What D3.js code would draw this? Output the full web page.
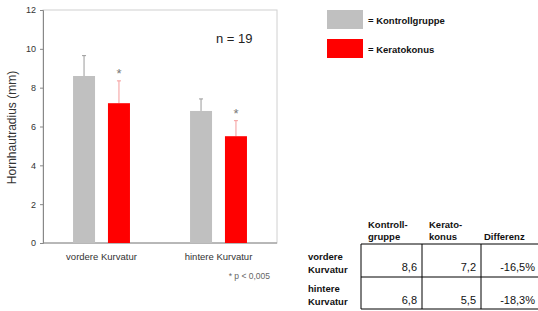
<!DOCTYPE html>
<html>
<head>
<meta charset="utf-8">
<script src="https://cdn.jsdelivr.net/npm/d3@7"></script>
<style>
  body { margin: 0; background: #fff; }
  svg { display: block; font-family: "Liberation Sans", Arial, sans-serif; }
</style>
</head>
<body>
<svg id="plot"></svg>
<script>
const width = 538;
const height = 311;

// data
const categories = ["vordere Kurvatur", "hintere Kurvatur"];
const series = ["Kontrollgruppe", "Keratokonus"];
const kontrolle = [8.6, 6.8];
const kontrolleSD = [1.05, 0.62];
const keratokonus = [7.2, 5.5];
const keratokonusSD = [1.15, 0.8];
const yTicks = [0, 2, 4, 6, 8, 10, 12];
const differenz = ["-16,5%", "-18,3%"];
const colors = ["#c0c0c0", "#ff0000"];
const errColors = ["#9a9a9a", "#f59a9a"];

let svg, x0, x1, y;

function main(){
  svg = d3.select('svg#plot')
  .attr('width', width)
  .attr('height', height);

  drawChart();
  drawLegend();
  drawTable();
}

function drawChart(){
  const left = 43, right = 277, top = 10, bottom = 243;

  x0 = d3.scaleBand().domain(categories).range([left, right]);
  x1 = d3.scaleBand().domain(series).range([0, x0.bandwidth()])
  .paddingInner(0.37).paddingOuter(0.86);
  y = d3.scaleLinear().domain([0, 12]).range([bottom, top]);

  // frame
  svg.append('rect')
  .attr('x', left).attr('y', top)
  .attr('width', right-left).attr('height', bottom-top)
  .attr('fill', 'none').attr('stroke', '#d0d0d0');

  const yAxis = svg.append('g')
  .attr('transform', `translate(${left},0)`)
  .call(d3.axisLeft(y).tickValues(yTicks).tickSize(3).tickPadding(4));
  yAxis.select('.domain').attr('stroke', '#888');
  yAxis.selectAll('.tick line').attr('stroke', '#888');
  yAxis.selectAll('.tick text').attr('font-size', 9).attr('fill', '#333');

  svg.append('line')
  .attr('x1', left).attr('x2', right).attr('y1', bottom).attr('y2', bottom)
  .attr('stroke', '#888');

  svg.append('text')
  .attr('transform', `translate(12,${(top+bottom)/2+1}) rotate(-90)`)
  .attr('text-anchor', 'middle').attr('dominant-baseline', 'central')
  .attr('font-size', 12).attr('fill', '#333')
  .text('Hornhautradius (mm)');

  const rows = categories.map((c,i)=>({
    cat: c,
    vals: [
      {s: series[0], v: kontrolle[i], sd: kontrolleSD[i], k: 0},
      {s: series[1], v: keratokonus[i], sd: keratokonusSD[i], k: 1}
    ]
  }));

  const g = svg.selectAll('.grp')
  .data(rows)
  .enter()
  .append('g')
  .attr('class', 'grp')
  .attr('transform', d=>`translate(${x0(d.cat)},0)`);

  // error bars
  const eb = g.selectAll('.err')
  .data(d=>d.vals)
  .enter()
  .append('g')
  .attr('class', 'err')
  .attr('stroke', d=>errColors[d.k]);
  eb.append('line')
  .attr('x1', d=>x1(d.s)+x1.bandwidth()/2)
  .attr('x2', d=>x1(d.s)+x1.bandwidth()/2)
  .attr('y1', d=>y(d.v))
  .attr('y2', d=>y(d.v+d.sd));
  eb.append('line')
  .attr('x1', d=>x1(d.s)+x1.bandwidth()/2-2)
  .attr('x2', d=>x1(d.s)+x1.bandwidth()/2+2)
  .attr('y1', d=>y(d.v+d.sd))
  .attr('y2', d=>y(d.v+d.sd));

  g.selectAll('.bar')
  .data(d=>d.vals)
  .enter()
  .append('rect')
  .attr('class', 'bar')
  .attr('x', d=>x1(d.s))
  .attr('y', d=>y(d.v))
  .attr('width', x1.bandwidth())
  .attr('height', d=>y(0)-y(d.v))
  .attr('fill', d=>colors[d.k]);

  // significance marks
  g.append('text')
  .attr('x', x1(series[1])+x1.bandwidth()/2)
  .attr('y', d=>y(d.vals[1].v+d.vals[1].sd)-3)
  .attr('text-anchor', 'middle')
  .attr('font-size', 13).attr('fill', '#777')
  .text('*');

  svg.selectAll('.catLabel')
  .data(categories)
  .enter()
  .append('text')
  .attr('class', 'catLabel')
  .attr('x', d=>x0(d)+x0.bandwidth()/2)
  .attr('y', 260)
  .attr('text-anchor', 'middle')
  .attr('font-size', 9.5).attr('fill', '#333')
  .text(d=>d);

  svg.append('text')
  .attr('x', 270).attr('y', 279)
  .attr('text-anchor', 'end')
  .attr('font-size', 8.5).attr('fill', '#666')
  .text('* p < 0,005');

  svg.append('text')
  .attr('x', 216).attr('y', 43)
  .attr('font-size', 13).attr('fill', '#222')
  .text('n = 19');
}

function drawLegend(){
  const lg = svg.selectAll('.legend')
  .data(series)
  .enter()
  .append('g')
  .attr('class', 'legend')
  .attr('transform', (d,i)=>`translate(327,${10+i*29})`);
  lg.append('rect')
  .attr('width', 36).attr('height', 19)
  .attr('fill', (d,i)=>colors[i]);
  lg.append('text')
  .attr('x', 41).attr('y', 13.5)
  .attr('font-size', 9.5).attr('font-weight', 'bold').attr('fill', '#111')
  .text(d=>'= '+d);
}

function drawTable(){
  const t = svg.append('g').attr('font-size', 9.5).attr('fill', '#111');
  const colX = [361, 422, 481, 538];
  const rowY = [244, 277, 309];

  // header
  const heads = [["Kontroll-", "gruppe"], ["Kerato-", "konus"], ["", "Differenz"]];
  heads.forEach((h,i)=>{
    h.forEach((line,j)=>{
      t.append('text')
      .attr('x', colX[i]+(i==2 ? 3 : 7)).attr('y', 228+j*12)
      .attr('font-weight', 'bold')
      .text(line);
    });
  });

  // row labels
  categories.forEach((c,i)=>{
    c.split(' ').forEach((w,j)=>{
      t.append('text')
      .attr('x', 308).attr('y', rowY[i]+16+j*13-(i==1 ? 1 : 0))
      .attr('font-weight', 'bold')
      .text(w);
    });
  });

  // lines
  rowY.forEach(yy=>{
    t.append('line')
    .attr('x1', colX[0]).attr('x2', colX[3])
    .attr('y1', yy).attr('y2', yy)
    .attr('stroke', '#000');
  });
  colX.slice(0,3).forEach(xx=>{
    t.append('line')
    .attr('x1', xx).attr('x2', xx)
    .attr('y1', rowY[0]).attr('y2', rowY[2])
    .attr('stroke', '#000');
  });

  // values
  const fmt = v=>d3.format('.1f')(v).replace('.', ',');
  const cells = categories.map((c,i)=>[fmt(kontrolle[i]), fmt(keratokonus[i]), differenz[i]]);
  cells.forEach((r,i)=>{
    r.forEach((v,j)=>{
      t.append('text')
      .attr('x', colX[j+1]-(j==2 ? 3 : 5))
      .attr('y', rowY[i]+27)
      .attr('text-anchor', 'end')
      .attr('font-size', 11)
      .text(v);
    });
  });
}

document.addEventListener('DOMContentLoaded', main);
</script>
</body>
</html>
